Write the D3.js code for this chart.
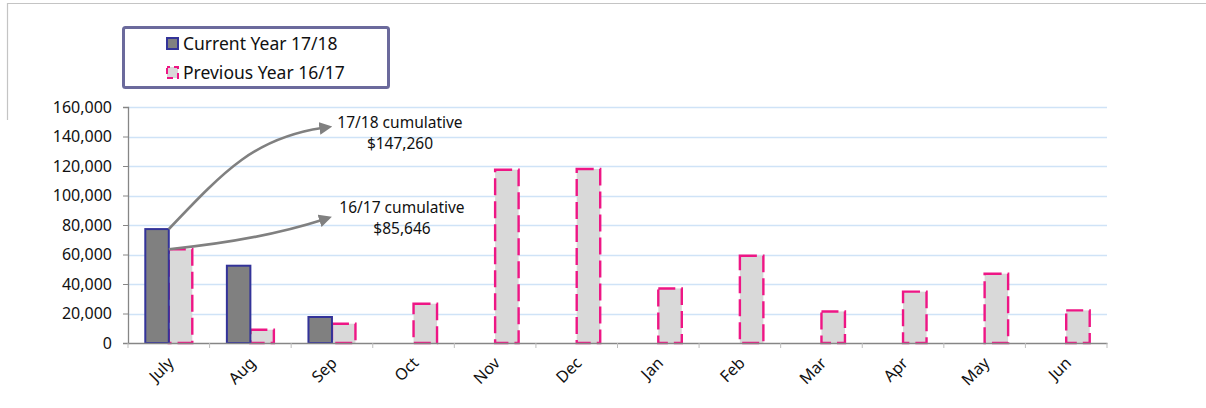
<!DOCTYPE html>
<html>
<head>
<meta charset="utf-8">
<script src="https://cdn.jsdelivr.net/npm/d3@7"></script>
<style>
  html, body { margin: 0; padding: 0; background: #fff; }
  svg { display: block; font-family: "Noto Sans", "Open Sans", sans-serif; }
</style>
</head>
<body>
<svg id="chart" width="1206" height="408"></svg>
<script>
const months = ["July","Aug","Sep","Oct","Nov","Dec","Jan","Feb","Mar","Apr","May","Jun"];
const currentYear = [77230, 52400, 17630, null, null, null, null, null, null, null, null, null];
const previousYear = [63566, 9000, 13080, 26640, 117500, 118000, 37000, 59200, 21400, 34800, 47000, 22100];
const yTicks = [0, 20000, 40000, 60000, 80000, 100000, 120000, 140000, 160000];
const seriesNames = ["Current Year 17/18", "Previous Year 16/17"];
const annotations = [
  { lines: ["17/18 cumulative", "$147,260"] },
  { lines: ["16/17 cumulative", "$85,646"] }
];

const svg = d3.select("#chart");
const plotLeft = 128, plotRight = 1107, plotTop = 107, plotBottom = 343;

// frame
svg.append("line").attr("x1", 7).attr("x2", 1206).attr("y1", 3.5).attr("y2", 3.5)
  .attr("stroke", "#c4c4c4").attr("stroke-width", 1.2);
svg.append("line").attr("x1", 7.5).attr("x2", 7.5).attr("y1", 3).attr("y2", 120)
  .attr("stroke", "#c4c4c4").attr("stroke-width", 1.2);

const x = d3.scaleBand().domain(months).range([plotLeft, plotRight]).paddingInner(0).paddingOuter(0);
const x1 = d3.scaleBand().domain(["cur", "prev"]).range([0, x.bandwidth()]).paddingInner(0).paddingOuter(0.736);
const y = d3.scaleLinear().domain([0, 160000]).range([plotBottom, plotTop]);

// gridlines
svg.append("g").selectAll("line").data(yTicks.filter(d => d > 0)).join("line")
  .attr("x1", plotLeft).attr("x2", plotRight)
  .attr("y1", d => Math.round(y(d)) + 0.5).attr("y2", d => Math.round(y(d)) + 0.5)
  .attr("stroke", "#cfe3f7").attr("stroke-width", 1.3);

// y axis
const yAxis = d3.axisLeft(y).tickValues(yTicks).tickFormat(d3.format(",")).tickSize(5).tickPadding(11);
const gy = svg.append("g").attr("transform", `translate(${plotLeft},0)`).call(yAxis);
gy.select(".domain").attr("stroke", "#868686").attr("stroke-width", 1.3);
gy.selectAll(".tick line").attr("stroke", "#868686");
gy.selectAll(".tick text").attr("font-size", 16).attr("fill", "#111")
  .attr("font-family", "Noto Sans, sans-serif");

// bars
const g = svg.append("g");
g.selectAll("rect.prev").data(months).join("rect").attr("class", "prev")
  .attr("x", m => x(m) + x1("prev"))
  .attr("y", (m, i) => y(previousYear[i]))
  .attr("width", x1.bandwidth())
  .attr("height", (m, i) => y(0) - y(previousYear[i]))
  .attr("fill", "#d9d9d9").attr("stroke", "#ee1685").attr("stroke-width", 2.4)
  .attr("stroke-dasharray", "17,6");
g.selectAll("rect.cur").data(months.filter((m, i) => currentYear[i] != null)).join("rect").attr("class", "cur")
  .attr("x", m => x(m) + x1("cur"))
  .attr("y", m => y(currentYear[months.indexOf(m)]))
  .attr("width", x1.bandwidth())
  .attr("height", m => y(0) - y(currentYear[months.indexOf(m)]))
  .attr("fill", "#808080").attr("stroke", "#333399").attr("stroke-width", 2);

// x axis
const xAxis = d3.axisBottom(x).tickSize(0).tickFormat("");
const gx = svg.append("g").attr("transform", `translate(0,${plotBottom})`).call(xAxis);
gx.select(".domain").attr("stroke", "#868686").attr("stroke-width", 1.5);
// category boundary ticks
svg.append("g").selectAll("line").data(months.concat(["__end"])).join("line")
  .attr("x1", (m, i) => i < months.length ? x(m) : plotRight)
  .attr("x2", (m, i) => i < months.length ? x(m) : plotRight)
  .attr("y1", plotBottom).attr("y2", plotBottom + 5)
  .attr("stroke", "#bdbdbd").attr("stroke-width", 1);
svg.append("g").selectAll("text").data(months).join("text")
  .attr("transform", m => `translate(${x(m) + x.bandwidth() / 2 + 6},${plotBottom + 21}) rotate(-45)`)
  .attr("text-anchor", "end").attr("font-size", 16).attr("fill", "#111")
  .text(m => m);

// arrows
const defs = svg.append("defs");
defs.append("marker").attr("id", "ah").attr("viewBox", "0 0 10 10").attr("refX", 2).attr("refY", 5)
  .attr("markerWidth", 5).attr("markerHeight", 5).attr("markerUnits", "strokeWidth").attr("orient", "auto")
  .append("path").attr("d", "M0,0 L10,5 L0,10 Z").attr("fill", "#808080");

const julyCurTop = [x("July") + x1("cur") + x1.bandwidth(), y(currentYear[0])];
const julyPrevTop = [x("July") + x1("prev"), y(previousYear[0])];
svg.append("path")
  .attr("d", `M${julyCurTop[0]},${julyCurTop[1]} C 225,170 255,138 322,128`)
  .attr("fill", "none").attr("stroke", "#808080").attr("stroke-width", 2.6).attr("marker-end", "url(#ah)");
svg.append("path")
  .attr("d", `M${julyPrevTop[0]},${julyPrevTop[1]} Q 260,240 322,220`)
  .attr("fill", "none").attr("stroke", "#808080").attr("stroke-width", 2.6).attr("marker-end", "url(#ah)");

// annotation text
const annPos = [[400, 128], [402, 213]];
annotations.forEach((a, k) => {
  a.lines.forEach((t, j) => {
    svg.append("text").attr("x", annPos[k][0]).attr("y", annPos[k][1] + j * 21)
      .attr("text-anchor", "middle").attr("font-size", 15.5).attr("fill", "#111").text(t);
  });
});

// legend
const lg = svg.append("g");
lg.append("rect").attr("x", 123.5).attr("y", 27.5).attr("width", 265).attr("height", 60).attr("rx", 2)
  .attr("fill", "#fff").attr("stroke", "#6b6a9c").attr("stroke-width", 3);
lg.append("rect").attr("x", 167).attr("y", 38).attr("width", 11).attr("height", 11)
  .attr("fill", "#808080").attr("stroke", "#333399").attr("stroke-width", 2);
lg.append("rect").attr("x", 167).attr("y", 67).attr("width", 11).attr("height", 11)
  .attr("fill", "#d9d9d9").attr("stroke", "#ee1685").attr("stroke-width", 2).attr("stroke-dasharray", "6,4").attr("stroke-dashoffset", 3);
lg.selectAll("text").data(seriesNames).join("text")
  .attr("x", 183).attr("y", (d, i) => 50 + i * 29)
  .attr("font-size", 17.5).attr("fill", "#111").text(d => d);
</script>
</body>
</html>
